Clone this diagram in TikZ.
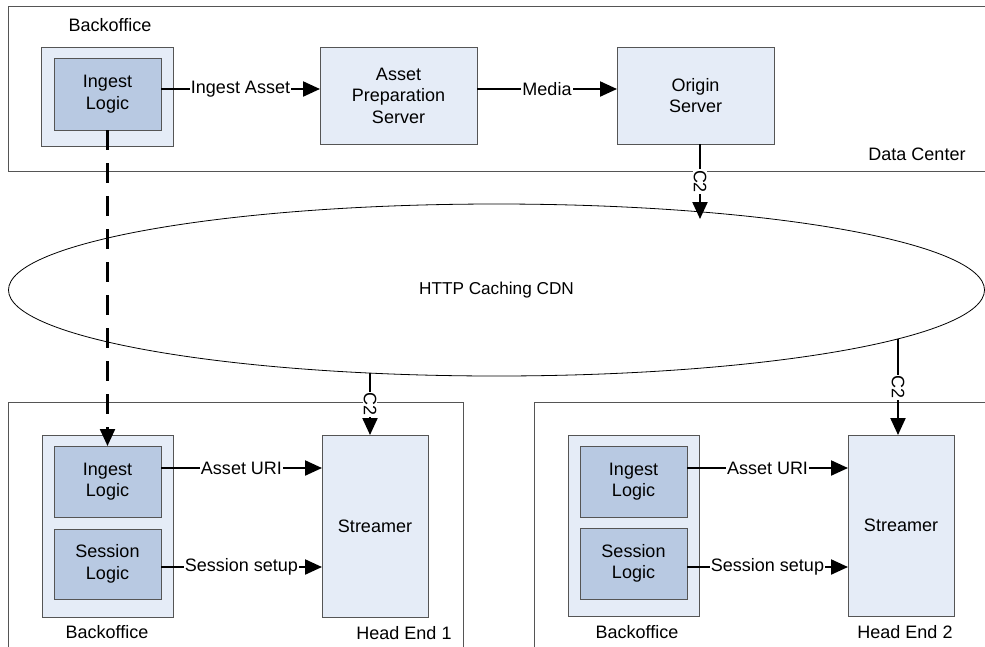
\documentclass[tikz,border=0pt]{standalone}
\usepackage{fontspec}
\setmainfont{Liberation Sans}
\usetikzlibrary{shapes.geometric,arrows.meta}
\definecolor{lightfill}{HTML}{E5ECF7}
\definecolor{darkfill}{HTML}{B8C9E2}
\definecolor{bordergray}{HTML}{555555}
\tikzset{
  every node/.style={font=\fontsize{18}{21.5}\selectfont, text=black},
  container/.style={draw=bordergray, line width=1pt},
  lightbox/.style={draw=bordergray, line width=1pt, fill=lightfill, inner sep=0pt, outer sep=0pt, align=center},
  darkbox/.style={draw=bordergray, line width=1pt, fill=darkfill, inner sep=0pt, outer sep=0pt, align=center, minimum width=107pt},
  arr/.style={line width=2.2pt, -{Triangle[length=17pt,width=15pt]}},
  lbl/.style={fill=white, inner xsep=1pt, inner ysep=1pt},
  c2lbl/.style={fill=white, inner sep=1pt, rotate=-90},
}
\begin{document}
\begin{tikzpicture}[x=1pt, y=-1pt]
\useasboundingbox (0,0) rectangle (985,646);
\clip (0,0) rectangle (985,646);
\fill[white] (0,0) rectangle (985,646);

% containers
\draw[container] (8,6) rectangle (995,171);
\node (dclbl) at (917,154) {Data Center};
\node (bolbl0) at (110,25) {Backoffice};
\draw[container] (8,402) rectangle (463,660);
\draw[container] (534,402) rectangle (995,660);
\node (he1lbl) at (404,633) {Head End 1};
\node (he2lbl) at (905,632) {Head End 2};
\node (bolbl1) at (107,632) {Backoffice};
\node (bolbl2) at (637,632) {Backoffice};

% CDN
\node[ellipse, draw, line width=0.8pt, minimum width=976pt, minimum height=172pt, inner sep=0pt, font=\fontsize{17.2}{21}\selectfont] (cdn) at (496.5,290) {HTTP Caching CDN};

% data center nodes
\node[lightbox, minimum width=132pt, minimum height=99pt] (bo0) at (107,96.5) {};
\node[darkbox, minimum height=72pt] (in0) at (107.5,94) {Ingest\\Logic};
\node[lightbox, minimum width=157pt, minimum height=97pt] (aps) at (398.5,95.5) {Asset\\Preparation\\Server};
\node[lightbox, minimum width=157pt, minimum height=97pt] (org) at (695.5,95.5) {Origin\\Server};

% head end 1
\node[lightbox, minimum width=131pt, minimum height=182pt] (bo1) at (107.5,526) {};
\node[darkbox, minimum height=71pt] (in1) at (107.5,481.5) {Ingest\\Logic};
\node[darkbox, minimum height=70pt] (se1) at (107.5,564) {Session\\Logic};
\node[lightbox, minimum width=106pt, minimum height=182pt] (st1) at (375,526) {Streamer};

% head end 2
\node[lightbox, minimum width=131pt, minimum height=181pt] (bo2) at (633.5,525.5) {};
\node[darkbox, minimum height=71pt] (in2) at (633.5,481.5) {Ingest\\Logic};
\node[darkbox, minimum height=71pt] (se2) at (633.5,563.5) {Session\\Logic};
\node[lightbox, minimum width=106pt, minimum height=181pt] (st2) at (901,525.5) {Streamer};

% coordinates on the CDN ellipse
\coordinate (c2top) at (700,219);
\coordinate (c2a) at (370,373);
\coordinate (c2b) at (898,339);

% connectors
\draw[arr] ([yshift=5pt]in0.east) -- ([yshift=5pt]in0.east -| aps.west) node[midway, lbl] {Ingest Asset};
\draw[arr] ([yshift=6.5pt]aps.east) -- ([yshift=6.5pt]aps.east -| org.west) node[midway, lbl] {Media};
\draw[arr] (org.south -| c2top) -- (c2top) node[midway, c2lbl] {C2};
\draw[arr, dash pattern=on 20pt off 13pt] (in0.south) -- (in1.north);
\draw[arr] (c2a) -- (c2a |- st1.north) node[midway, c2lbl] {C2};
\draw[arr] (c2b) -- (c2b |- st2.north) node[midway, c2lbl] {C2};
\draw[arr] ([yshift=13.5pt]in1.east) -- ([yshift=13.5pt]in1.east -| st1.west) node[midway, lbl] {Asset URI};
\draw[arr] ([yshift=-3pt]se1.east) -- ([yshift=-3pt]se1.east -| st1.west) node[midway, lbl] {Session setup};
\draw[arr] ([yshift=13.5pt]in2.east) -- ([yshift=13.5pt]in2.east -| st2.west) node[midway, lbl] {Asset URI};
\draw[arr] ([yshift=-3.5pt]se2.east) -- ([yshift=-3.5pt]se2.east -| st2.west) node[midway, lbl] {Session setup};
\end{tikzpicture}
\end{document}
